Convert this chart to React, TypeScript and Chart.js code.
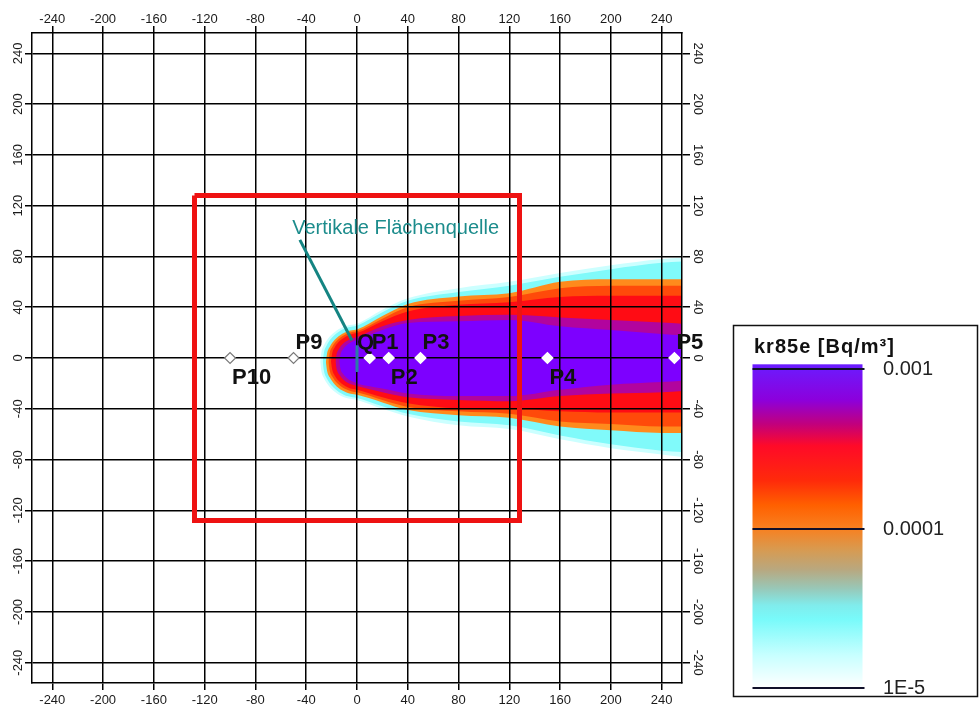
import React, { useEffect, useRef } from 'react';
import { Chart, registerables } from 'chart.js';

Chart.register(...registerables);

// ---------- axis ----------
const axisTicks = [-240, -200, -160, -120, -80, -40, 0, 40, 80, 120, 160, 200, 240];
const axisMin = -256;
const axisMax = 256;

// ---------- plume bands: edge positions (m) ----------
const lightCyanX = [-29, -28, -26, -22, -16, -9, 0, 20, 40, 80, 120, 160, 200, 240, 256];
const lightCyanTop = [-3, 4.7, 10, 16.3, 21.7, 25.3, 27, 38, 47, 55, 60, 67, 73, 78, 79];
const lightCyanBot = [-3, -10.7, -16, -22.3, -27.7, -31.3, -33, -40, -46, -53, -56, -64, -71, -76, -78];

const cyanX = [-27, -26, -24, -20, -14, -7, 0, 20, 40, 80, 120, 160, 200, 240, 256];
const cyanTop = [-3, 4.5, 9.7, 15.7, 20.9, 24.2, 25.5, 36, 45, 52, 57, 64, 70, 75, 76];
const cyanBot = [-3, -10.5, -15.7, -21.7, -26.9, -30.2, -31.5, -38, -44, -50, -53, -61, -68, -73, -74];

const orangeX = [-24.5, -23.5, -21.5, -17.5, -11.5, -5, 0, 20, 40, 80, 120, 160, 200, 240, 256];
const orangeTop = [-3.25, 3.85, 8.75, 14.35, 19.15, 21.75, 22.5, 33, 42.5, 48.5, 51, 60, 62, 62, 62];
const orangeBot = [-3.25, -10.35, -15.25, -20.85, -25.65, -28.25, -29, -35, -41, -45, -47, -54, -57, -59, -59];

const redOrangeX = [-22.5, -21.5, -19.5, -15.5, -9.5, -4, 0, 20, 40, 80, 120, 160, 200, 240, 256];
const redOrangeTop = [-3, 3.9, 8.6, 13.9, 18.3, 20.4, 21, 31, 40, 45, 48, 55, 57, 57, 57];
const redOrangeBot = [-3, -9.9, -14.6, -19.9, -24.3, -26.4, -27, -33, -38.5, -42, -44, -50, -52, -54, -54];

const redX = [-20.5, -19.5, -17.5, -13.5, -7.5, -3, 0, 20, 40, 80, 120, 160, 200, 240, 256];
const redTop = [-2.7, 3.9, 8.5, 13.5, 17.6, 19.1, 19.6, 29, 36.7, 42, 44, 48, 49, 49, 49];
const redBot = [-2.7, -9.3, -13.9, -18.9, -23, -24.5, -25, -31, -35.7, -39.6, -40, -42, -43, -43, -43];

const magentaX = [-17, -16, -14, -10, -4, 0, 20, 40, 80, 120, 160, 200, 240, 256];
const magentaTop = [-2.75, 3.35, 7.55, 12.15, 15.45, 16.5, 25, 30, 33, 34, 32, 30, 28, 27];
const magentaBot = [-2.75, -8.85, -13.05, -17.65, -20.95, -22, -27, -31, -33, -34, -30, -28, -27, -26];

const violetX = [-14, -13, -11, -7, -3, 0, 20, 40, 80, 120, 160, 200, 240, 256];
const violetTop = [-2.8, 3, 6.9, 11, 13.2, 14.4, 22, 27.5, 29, 30, 25, 22, 19, 18];
const violetBot = [-2.8, -8.6, -12.5, -16.6, -18.8, -20, -24, -28, -30, -30, -25, -21, -19, -18];

// ---------- receptor points ----------
const receptorNames = ['P1', 'P2', 'P3', 'P4', 'P5', 'P9', 'P10'];
const receptorX = [10, 25, 50, 150, 250, -50, -100];
const receptorY = [0, 0, 0, 0, 0, 0, 0];
const receptorLabelBelow = [false, true, false, true, false, false, true];

// ---------- source & annotation ----------
const sourceName = 'Q';
const sourceX = [0, 0];
const sourceY = [10, -11];
const annotationText = 'Vertikale Flächenquelle';
const annotationTextX = -51;
const annotationTextY = 102;
const annotationLineX = [-45, -4];
const annotationLineY = [93, 14];

// ---------- assessment area (red square) ----------
const areaX = [-128, 128, 128, -128, -128];
const areaY = [128, 128, -128, -128, 128];

// ---------- colour legend ----------
const legendTitle = 'kr85e [Bq/m³]';
const legendLevels = [1.07e-3, 6.4e-4, 4.5e-4, 3.3e-4, 2e-4, 1.4e-4, 1e-4, 7.4e-5, 5.5e-5, 4.2e-5, 3.3e-5, 2.7e-5, 1.6e-5, 1e-5];
const legendColors = ['#6a1cff', '#8c00dc', '#c2007c', '#ff0a28', '#ff2a0a', '#ff6000', '#f88020', '#d89a50', '#b8a880', '#98c8b8', '#80ecec', '#78fafa', '#c8ffff', '#ffffff'];
const legendTickValues = [1e-3, 1e-4, 1e-5];
const legendTickLabels = ['0.001', '0.0001', '1E-5'];

// ---------- styling ----------
const FONT = '"Liberation Sans", Arial, sans-serif';
const GRID = '#000';
const bandStyles = [
  { xs: violetX, top: violetTop, bot: violetBot, color: '#7d00ff' },
  { xs: magentaX, top: magentaTop, bot: magentaBot, color: '#b2049e' },
  { xs: redX, top: redTop, bot: redBot, color: '#ff0c14' },
  { xs: redOrangeX, top: redOrangeTop, bot: redOrangeBot, color: '#ff4a0a' },
  { xs: orangeX, top: orangeTop, bot: orangeBot, color: '#ff8a1c' },
  { xs: cyanX, top: cyanTop, bot: cyanBot, color: '#80fafa' },
  { xs: lightCyanX, top: lightCyanTop, bot: lightCyanBot, color: '#ccffff' },
];

const legendBox = { x: 733, y: 325, w: 244, h: 371 };
const legendBar = { x: 752.5, w: 110, y1e3: 369, decade: 159.5 };

function legendY(v: number) {
  return legendBar.y1e3 + (-3 - Math.log10(v)) * legendBar.decade;
}

const overlayPlugin = {
  id: 'overlay',
  afterDraw(chart: any) {
    const { ctx, chartArea } = chart;
    const xs = chart.scales.x;
    const ys = chart.scales.y;
    ctx.save();

    // rotated y tick labels
    ctx.font = `13px ${FONT}`;
    ctx.fillStyle = '#1a1a1a';
    ctx.textAlign = 'center';
    ctx.textBaseline = 'middle';
    for (const v of axisTicks) {
      const py = ys.getPixelForValue(v);
      ctx.save();
      ctx.translate(chartArea.left - 14, py);
      ctx.rotate(-Math.PI / 2);
      ctx.fillText(String(v), 0, 0);
      ctx.restore();
      ctx.save();
      ctx.translate(chartArea.right + 16, py);
      ctx.rotate(Math.PI / 2);
      ctx.fillText(String(v), 0, 0);
      ctx.restore();
    }

    // receptor labels
    ctx.font = `bold 22px ${FONT}`;
    ctx.fillStyle = '#111';
    ctx.textAlign = 'left';
    ctx.textBaseline = 'alphabetic';
    receptorNames.forEach((name, i) => {
      const px = xs.getPixelForValue(receptorX[i]);
      const py = ys.getPixelForValue(receptorY[i]);
      ctx.fillText(name, px + 2, receptorLabelBelow[i] ? py + 26 : py - 9);
    });
    ctx.fillText(sourceName, xs.getPixelForValue(0), ys.getPixelForValue(0) - 9);

    // annotation text
    ctx.font = `20px ${FONT}`;
    ctx.fillStyle = '#1c8c8c';
    ctx.textBaseline = 'middle';
    ctx.fillText(annotationText, xs.getPixelForValue(annotationTextX), ys.getPixelForValue(annotationTextY));

    // legend box
    ctx.strokeStyle = '#111';
    ctx.lineWidth = 1.5;
    ctx.strokeRect(legendBox.x + 0.5, legendBox.y + 0.5, legendBox.w, legendBox.h);

    const yTop = legendY(legendLevels[0]);
    const yBot = legendY(legendLevels[legendLevels.length - 1]);
    const grad = ctx.createLinearGradient(0, yTop, 0, yBot);
    legendLevels.forEach((lv, i) => {
      grad.addColorStop((legendY(lv) - yTop) / (yBot - yTop), legendColors[i]);
    });
    ctx.fillStyle = grad;
    ctx.fillRect(legendBar.x, yTop, legendBar.w, yBot - yTop);

    ctx.strokeStyle = '#10102a';
    ctx.lineWidth = 2;
    ctx.font = `20px ${FONT}`;
    ctx.fillStyle = '#222';
    ctx.textBaseline = 'middle';
    legendTickValues.forEach((v, i) => {
      const y = Math.round(legendY(v));
      ctx.beginPath();
      ctx.moveTo(legendBar.x, y);
      ctx.lineTo(legendBar.x + legendBar.w + 2, y);
      ctx.stroke();
      ctx.fillText(legendTickLabels[i], 883, y);
    });

    ctx.font = `bold 20px ${FONT}`;
    ctx.fillStyle = '#111';
    ctx.textBaseline = 'alphabetic';
    try { (ctx as any).letterSpacing = '1px'; } catch (e) { /* ignore */ }
    ctx.fillText(legendTitle, 754, 353);
    try { (ctx as any).letterSpacing = '0px'; } catch (e) { /* ignore */ }

    ctx.restore();
  },
};

function buildDatasets() {
  const ds: any[] = [];
  ds.push({
    label: 'Beurteilungspunkte',
    data: receptorX.map((x, i) => ({ x, y: receptorY[i] })),
    showLine: false,
    pointStyle: 'rectRot',
    pointRadius: 5.5,
    pointBackgroundColor: '#ffffff',
    pointBorderColor: receptorX.map((x) => (x < -20 ? '#7a7a7a' : '#ffffff')),
    pointBorderWidth: 1.2,
    fill: false,
  });
  ds.push({
    label: 'Quelle',
    data: sourceX.map((x, i) => ({ x, y: sourceY[i] })),
    borderColor: '#2a7ca6',
    borderWidth: 3,
    pointRadius: 0,
    fill: false,
  });
  ds.push({
    label: 'Annotation',
    data: annotationLineX.map((x, i) => ({ x, y: annotationLineY[i] })),
    borderColor: '#148482',
    borderWidth: 3,
    pointRadius: 0,
    fill: false,
  });
  ds.push({
    label: 'Beurteilungsgebiet',
    data: areaX.map((x, i) => ({ x, y: areaY[i] })),
    borderColor: '#ee1212',
    borderWidth: 5,
    pointRadius: 0,
    fill: false,
    tension: 0,
  });
  bandStyles.forEach((b) => {
    ds.push({
      label: 'band',
      data: b.xs.map((x, i) => ({ x, y: b.top[i] })),
      borderWidth: 0,
      borderColor: 'rgba(0,0,0,0)',
      backgroundColor: b.color,
      pointRadius: 0,
      fill: '+1',
      tension: 0.4,
      cubicInterpolationMode: 'monotone',
    });
    ds.push({
      label: 'band',
      data: b.xs.map((x, i) => ({ x, y: b.bot[i] })),
      borderWidth: 0,
      borderColor: 'rgba(0,0,0,0)',
      pointRadius: 0,
      fill: false,
      tension: 0.4,
      cubicInterpolationMode: 'monotone',
    });
  });
  return ds;
}

function setTicks(scale: any) {
  scale.ticks = axisTicks.map((v) => ({ value: v }));
}

export default function App() {
  const ref = useRef<HTMLCanvasElement>(null);
  useEffect(() => {
    const tickFont = { family: FONT, size: 13 };
    const chart = new Chart(ref.current as HTMLCanvasElement, {
      type: 'line',
      data: { datasets: buildDatasets() },
      plugins: [overlayPlugin],
      options: {
        animation: false,
        responsive: false,
        devicePixelRatio: 1,
        layout: { padding: { left: 8, top: 8, right: 274, bottom: 0 } },
        plugins: {
          legend: { display: false },
          tooltip: { enabled: false },
          filler: { drawTime: 'beforeDraw', propagate: false },
        },
        scales: {
          x: {
            type: 'linear', axis: 'x', position: 'bottom', min: axisMin, max: axisMax,
            afterBuildTicks: setTicks,
            afterFit: (s: any) => { s.height = 23; },
            ticks: { font: tickFont, color: '#1a1a1a', padding: 3, maxRotation: 0, minRotation: 0, autoSkip: false, callback: (v: any) => String(v) },
            grid: { color: GRID, lineWidth: 1.5, tickLength: 7, drawTicks: true },
            border: { color: GRID, width: 1.5 },
          },
          x2: {
            type: 'linear', axis: 'x', position: 'top', min: axisMin, max: axisMax,
            afterBuildTicks: setTicks,
            afterFit: (s: any) => { s.height = 25; },
            ticks: { font: tickFont, color: '#1a1a1a', padding: -1, maxRotation: 0, minRotation: 0, autoSkip: false, callback: (v: any) => String(v) },
            grid: { color: GRID, lineWidth: 1.5, tickLength: 7, drawTicks: true, drawOnChartArea: false },
            border: { color: GRID, width: 1.5 },
          },
          y: {
            type: 'linear', axis: 'y', position: 'left', min: axisMin, max: axisMax,
            afterBuildTicks: setTicks,
            afterFit: (s: any) => { s.width = 24; },
            ticks: { display: false },
            grid: { color: GRID, lineWidth: 1.5, tickLength: 7, drawTicks: true },
            border: { color: GRID, width: 1.5 },
          },
          y2: {
            type: 'linear', axis: 'y', position: 'right', min: axisMin, max: axisMax,
            afterBuildTicks: setTicks,
            afterFit: (s: any) => { s.width = 24; },
            ticks: { display: false },
            grid: { color: GRID, lineWidth: 1.5, tickLength: 8, drawTicks: true, drawOnChartArea: false },
            border: { color: GRID, width: 1.5 },
          },
        },
      } as any,
    });
    return () => chart.destroy();
  }, []);
  return (
    <div style={{ position: 'fixed', left: 0, top: 0, width: 980, height: 706, background: '#ffffff' }}>
      <canvas ref={ref} width={980} height={706} style={{ display: 'block', width: 980, height: 706 }} />
    </div>
  );
}
